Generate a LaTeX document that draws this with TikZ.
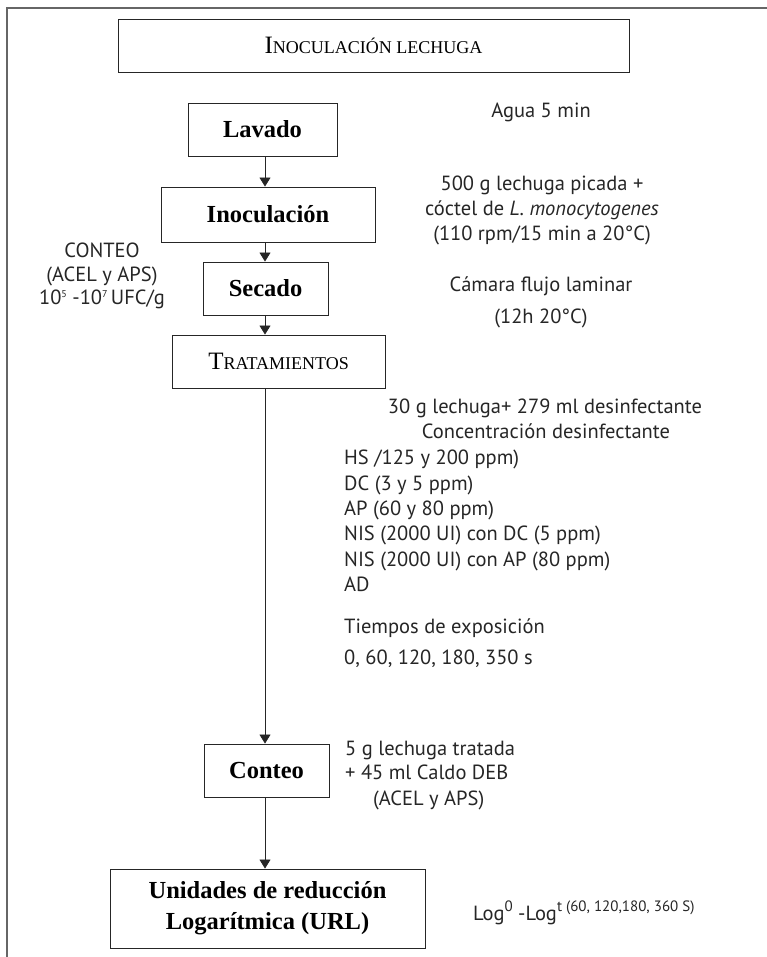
\documentclass[tikz,border=0pt]{standalone}
\usepackage{fontspec}
\setmainfont{Liberation Serif}
\newfontfamily\sansf{PT Sans}
\usetikzlibrary{arrows.meta}
\newcommand\fakesc[2]{{\fontsize{25}{25}\selectfont #1}{\fontsize{18}{18}\selectfont #2}}
\newcommand\supr[1]{\raisebox{9pt}{\fontsize{15}{15}\selectfont #1}}
\begin{document}
\begin{tikzpicture}[x=1pt,y=-1pt,
  box/.style={draw=black!85, line width=0.9pt, inner sep=0pt, align=center},
  boxtxt/.style={font=\fontsize{24.5}{28}\selectfont\bfseries},
  lbl/.style={inner sep=0pt, font=\sansf\fontsize{20.5}{25}\selectfont, text=black!85},
  arr/.style={line width=0.8pt, draw=black!85, -{Triangle[width=11pt,length=9pt]}},
  frame/.style={line width=1.4pt, draw=black!60}]
\useasboundingbox (0,0) rectangle (767,957);
\draw[frame] (7,957) -- (7,8) -- (767,8);
\coordinate (spine) at (265,0);
% boxes
\node[box, minimum width=511pt, minimum height=53pt] (title) at (373.5,45.5) {\fakesc{I}{NOCULACIÓN LECHUGA}};
\node[box, boxtxt, minimum width=149pt, minimum height=53pt] (lav) at (262.5,129.5) {Lavado};
\node[box, boxtxt, minimum width=214pt, minimum height=55pt] (inoc) at (268,214.5) {Inoculación};
\node[box, boxtxt, minimum width=125pt, minimum height=53pt] (sec) at (265.5,288.5) {Secado};
\node[box, minimum width=213pt, minimum height=53pt] (trat) at (278.5,361.5) {\fakesc{T}{RATAMIENTOS}};
\node[box, boxtxt, minimum width=125pt, minimum height=53pt] (cont) at (266.5,770.5) {Conteo};
\node[box, boxtxt, minimum width=315pt, minimum height=79pt, font=\fontsize{24.5}{31}\selectfont\bfseries] (url) at (267.5,908.5) {Unidades de reducción\\Logarítmica (URL)};
% arrows
\draw[arr] (lav.south -| spine) -- (inoc.north -| spine);
\draw[arr] (inoc.south -| spine) -- (sec.north -| spine);
\draw[arr] (sec.south -| spine) -- (trat.north -| spine);
\draw[arr] (trat.south -| spine) -- (cont.north -| spine);
\draw[arr] (cont.south -| spine) -- (url.north -| spine);
% right texts
\node[lbl, anchor=base] (agua) at (541,118) {Agua 5 min};
\node[lbl, anchor=base] (t1) at (542,191) {500 g lechuga picada +};
\node[lbl, anchor=base] (t2) at (542,216) {cóctel de \textit{L. monocytogenes}};
\node[lbl, anchor=base] (t3) at (542,241) {(110 rpm/15 min a 20°C)};
\node[lbl, anchor=base] (cam) at (541,291) {Cámara flujo laminar};
\node[lbl, anchor=base] (cam2) at (541,323) {(12h 20°C)};
\node[lbl, anchor=base] (d1) at (545,413) {30 g lechuga+ 279 ml desinfectante};
\node[lbl, anchor=base] (d2) at (546,438) {Concentración desinfectante};
\node[lbl, anchor=base west] (l1) at (344,464) {HS /125 y 200 ppm)};
\node[lbl, anchor=base west] (l2) at (344,490) {DC (3 y 5 ppm)};
\node[lbl, anchor=base west] (l3) at (344,515) {AP (60 y 80 ppm)};
\node[lbl, anchor=base west] (l4) at (344,540) {NIS (2000 UI) con DC (5 ppm)};
\node[lbl, anchor=base west] (l5) at (344,566) {NIS (2000 UI) con AP (80 ppm)};
\node[lbl, anchor=base west] (l6) at (344,591) {AD};
\node[lbl, anchor=base west] (te) at (344,633) {Tiempos de exposición};
\node[lbl, anchor=base west] (tv) at (344,664) {0, 60, 120, 180, 350 s};
\node[lbl, anchor=base west] (c1) at (345,755) {5 g lechuga tratada};
\node[lbl, anchor=base west] (c2) at (345,779) {+ 45 ml Caldo DEB};
\node[lbl, anchor=base west] (c3) at (373,805) {(ACEL y APS)};
\node[lbl, anchor=base west] (log) at (473,920) {Log\supr{0} -Log\supr{t (60, 120,180, 360 S)}};
% left texts
\node[lbl, anchor=base] (k1) at (102,258) {CONTEO};
\node[lbl, anchor=base] (k2) at (102,282) {(ACEL y APS)};
\node[lbl, anchor=base] (k3) at (102,304) {10\raisebox{7pt}{\fontsize{10}{10}\selectfont 5} -10\raisebox{7pt}{\fontsize{10}{10}\selectfont 7}\,UFC/g};
\end{tikzpicture}
\end{document}
